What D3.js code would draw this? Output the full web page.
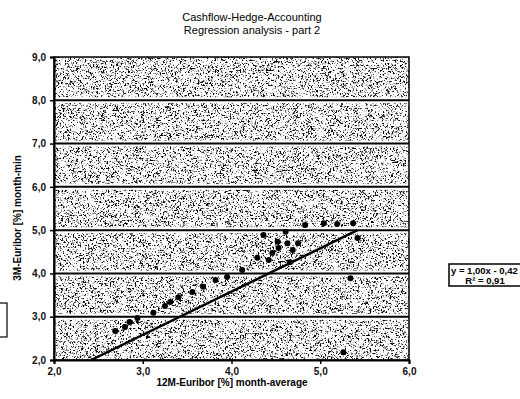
<!DOCTYPE html>
<html>
<head>
<meta charset="utf-8">
<script src="https://cdn.jsdelivr.net/npm/d3@7"></script>
<style>
  body { margin: 0; background: #fff; }
  svg { font-family: "Liberation Sans", Arial, sans-serif; }
</style>
</head>
<body>
<svg id="chart" width="520" height="399"></svg>
<script>
// data
const xTicks = [2, 3, 4, 5, 6];
const yTicks = [2, 3, 4, 5, 6, 7, 8, 9];
const monthAvg12M = [2.69, 2.80, 2.85, 2.94, 3.12, 3.25, 3.31, 3.40, 3.56, 3.68, 3.82, 3.95, 4.12, 4.29, 4.42, 4.46, 4.53, 4.66, 4.69, 4.36, 4.52, 4.63, 4.75, 4.61, 4.83, 5.04, 5.19, 5.37, 5.42, 5.34, 5.26];
const monthMin3M  = [2.67, 2.76, 2.88, 2.97, 3.09, 3.25, 3.34, 3.45, 3.57, 3.69, 3.85, 3.92, 4.08, 4.36, 4.31, 4.47, 4.59, 4.26, 4.54, 4.89, 4.73, 4.70, 4.70, 4.96, 5.12, 5.16, 5.14, 5.16, 4.82, 3.89, 2.18];
const slope = 1.00, intercept = -0.42, r2 = 0.91;
const fitRange = [2.42, 5.42];

const fmt = d => d3.format(".1f")(d).replace(".", ",");

const svg = d3.select("#chart");
const x = d3.scaleLinear().domain([2, 6]).range([54, 409]);
const y = d3.scaleLinear().domain([2, 9]).range([360, 57]);

// speckled scan background (fine grain, lightly modulated by blotches)
const defs = svg.append("defs");
const f = defs.append("filter").attr("id", "grain")
    .attr("x", 0).attr("y", 0).attr("width", "100%").attr("height", "100%")
    .attr("color-interpolation-filters", "sRGB");
const opaqueR = "1 0 0 0 0  0 0 0 0 0  0 0 0 0 0  0 0 0 0 1";
f.append("feTurbulence").attr("type", "fractalNoise").attr("baseFrequency", 0.6)
    .attr("numOctaves", 3).attr("seed", 7).attr("result", "fine0");
f.append("feColorMatrix").attr("in", "fine0").attr("type", "matrix").attr("values", opaqueR).attr("result", "fine");
f.append("feTurbulence").attr("type", "fractalNoise").attr("baseFrequency", 0.15)
    .attr("numOctaves", 2).attr("seed", 3).attr("result", "coarse0");
f.append("feColorMatrix").attr("in", "coarse0").attr("type", "matrix").attr("values", opaqueR).attr("result", "coarse");
f.append("feComposite").attr("in", "fine").attr("in2", "coarse").attr("operator", "arithmetic")
    .attr("k1", 0).attr("k2", 1).attr("k3", 0.3).attr("k4", -0.15).attr("result", "mix");
f.append("feColorMatrix").attr("in", "mix").attr("type", "matrix")
    .attr("values", "0 0 0 0 0  0 0 0 0 0  0 0 0 0 0  1 0 0 0 0");
f.append("feComponentTransfer").append("feFuncA").attr("type", "linear")
    .attr("slope", 6).attr("intercept", -3.2);
f.append("feComposite").attr("in2", "SourceGraphic").attr("operator", "in");

svg.append("rect")
    .attr("x", x(2)).attr("y", y(9))
    .attr("width", x(6) - x(2)).attr("height", y(2) - y(9))
    .attr("fill", "#fff");
svg.append("rect")
    .attr("x", x(2)).attr("y", y(9))
    .attr("width", x(6) - x(2)).attr("height", y(2) - y(9))
    .attr("fill", "#151515")
    .attr("filter", "url(#grain)");

// gridlines: black with a white halo
const grid = svg.append("g");
grid.selectAll("line.halo")
  .data(yTicks.slice(1, -1))
  .join("line").attr("class", "halo")
    .attr("x1", x(2)).attr("x2", x(6))
    .attr("y1", d => y(d)).attr("y2", d => y(d))
    .attr("stroke", "#fff").attr("stroke-width", 6);
grid.selectAll("line.g")
  .data(yTicks.slice(1, -1))
  .join("line").attr("class", "g")
    .attr("x1", x(2)).attr("x2", x(6))
    .attr("y1", d => y(d)).attr("y2", d => y(d))
    .attr("stroke", "#000").attr("stroke-width", 2);

// plot frame
svg.append("rect")
    .attr("x", x(2)).attr("y", y(9))
    .attr("width", x(6) - x(2)).attr("height", y(2) - y(9))
    .attr("fill", "none").attr("stroke", "#000").attr("stroke-width", 1.5);

// points
svg.append("g")
  .selectAll("circle")
  .data(d3.zip(monthAvg12M, monthMin3M))
  .join("circle")
    .attr("cx", d => x(d[0]))
    .attr("cy", d => y(d[1]))
    .attr("r", 3)
    .attr("fill", "#000");

// trend line
svg.append("line")
    .attr("x1", x(fitRange[0])).attr("y1", y(slope * fitRange[0] + intercept))
    .attr("x2", x(fitRange[1])).attr("y2", y(slope * fitRange[1] + intercept))
    .attr("stroke", "#000").attr("stroke-width", 2.5);

// axes
const yAxis = svg.append("g")
    .attr("transform", `translate(${x(2)},0)`)
    .call(d3.axisLeft(y).tickValues(yTicks).tickFormat(fmt).tickSize(4).tickPadding(4));
const xAxis = svg.append("g")
    .attr("transform", `translate(0,${y(2)})`)
    .call(d3.axisBottom(x).tickValues(xTicks).tickFormat(fmt).tickSize(4).tickPadding(4));
[xAxis, yAxis].forEach(a => {
  a.select(".domain").attr("stroke-width", 2);
  a.selectAll("line").attr("stroke-width", 1.5);
  a.selectAll("text")
    .attr("font-family", "Liberation Sans, Arial, sans-serif")
    .attr("font-size", 10).attr("font-weight", "bold").attr("fill", "#111");
});

// titles
svg.append("text").attr("x", 252).attr("y", 21).attr("text-anchor", "middle")
    .attr("font-size", 11).text("Cashflow-Hedge-Accounting");
svg.append("text").attr("x", 252).attr("y", 34).attr("text-anchor", "middle")
    .attr("font-size", 11).text("Regression analysis - part 2");

svg.append("text")
    .attr("transform", `translate(21,218) rotate(-90)`)
    .attr("text-anchor", "middle").attr("font-size", 10).attr("font-weight", "bold")
    .text("3M-Euribor [%]  month-min");
svg.append("text").attr("x", 232).attr("y", 386).attr("text-anchor", "middle")
    .attr("font-size", 10).attr("font-weight", "bold")
    .text("12M-Euribor [%]  month-average");

// equation label box, running into the right edge
svg.append("rect").attr("x", 449).attr("y", 264).attr("width", 90).attr("height", 22)
    .attr("fill", "#fff").attr("stroke", "#000").attr("stroke-width", 1.5);
svg.append("text").attr("x", 451).attr("y", 274).attr("font-size", 9.5).attr("font-weight", "bold")
    .text(`y = ${fmt(slope).replace(/,0$/, ",00")}x - ${d3.format(".2f")(-intercept).replace(".", ",")}`);
svg.append("text").attr("x", 485).attr("y", 284).attr("text-anchor", "middle")
    .attr("font-size", 9.5).attr("font-weight", "bold")
    .text(`R² = ${d3.format(".2f")(r2).replace(".", ",")}`);

// leftover legend frame at left edge
svg.append("rect").attr("x", -2).attr("y", 303).attr("width", 9).attr("height", 34)
    .attr("fill", "#fff").attr("stroke", "#000").attr("stroke-width", 1.2);
</script>
</body>
</html>
